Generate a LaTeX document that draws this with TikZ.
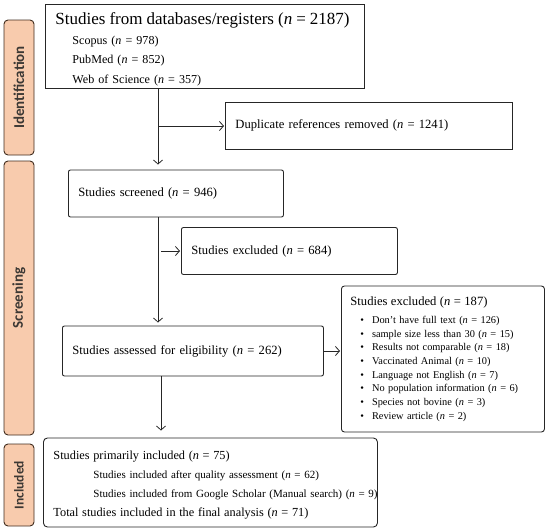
\documentclass[tikz,border=0pt]{standalone}
\usepackage{fontspec}
\setmainfont{Liberation Serif}
\newfontfamily\barfont{Carlito}
\usepackage{tikz}
\usetikzlibrary{calc,positioning,arrows.meta}
\definecolor{peach}{RGB}{248,203,173}
\definecolor{barline}{RGB}{64,44,30}
\definecolor{bartext}{RGB}{60,56,52}
\newcommand{\nn}{\textit{n}}

\begin{document}
\begin{tikzpicture}[x=1pt,y=-1pt,
  stage/.style={rotate=90,draw=barline,fill=peach,line width=0.9pt,rounded corners=4pt,minimum height=30pt,inner sep=0pt,text=bartext,font=\barfont\bfseries\fontsize{15}{16}\selectfont},
  box/.style={draw=black!85,line width=0.9pt,anchor=west,align=left,inner xsep=10pt,inner ysep=0pt,font=\fontsize{12.6}{19.5}\selectfont},
  flow/.style={-{Straight Barb[length=4pt,width=9pt]},line width=0.8pt,black!85}]
\useasboundingbox (0,0) rectangle (550,530);

% phases
\node[stage,minimum width=135pt] (p1) at (19,87.5) {Identification};
\node[stage,minimum width=274pt] (p2) at (19,298) {Screening};
\node[stage,minimum width=82pt,font=\barfont\bfseries\fontsize{13.5}{15}\selectfont] (p3) at (19,485) {Included};

% boxes
\node[box,text width=299pt,minimum height=84pt,font=\fontsize{12.1}{19.5}\selectfont] (b1) at (45,46) {{\fontsize{17}{19.5}\selectfont\rule{0pt}{19pt}Studies from databases/registers (\nn{} = 2187)}\\
  \hspace*{17pt}Scopus (\nn{} = 978)\\
  \hspace*{17pt}PubMed (\nn{} = 852)\\
  \hspace*{17pt}Web of Science (\nn{} = 357)};
\node[box,text width=267pt,minimum height=47pt] (b2) at (225,125.5) {Duplicate references removed (\nn{} = 1241)};
\node[box,text width=195pt,minimum height=47pt,rounded corners=2pt] (b3) at (68,193.5) {Studies screened (\nn{} = 946)};
\node[box,text width=196pt,minimum height=47pt,rounded corners=2pt] (b4) at (181,251) {Studies excluded (\nn{} = 684)};
\node[box,text width=241pt,minimum height=50pt,rounded corners=2pt] (b5) at (62,351) {Studies assessed for eligibility (\nn{} = 262)};
\node[box,text width=185pt,minimum height=146pt,rounded corners=3pt,inner xsep=9pt,font=\fontsize{10.35}{13.7}\selectfont] (b6) at (341,359) {{\fontsize{12.6}{13.7}\selectfont Studies excluded (\nn{} = 187)}\\[4.3pt]
  \hspace*{10pt}\textbullet\hspace{8pt}Don’t have full text (\nn{} = 126)\\
  \hspace*{10pt}\textbullet\hspace{8pt}sample size less than 30 (\nn{} = 15)\\
  \hspace*{10pt}\textbullet\hspace{8pt}Results not comparable (\nn{} = 18)\\
  \hspace*{10pt}\textbullet\hspace{8pt}Vaccinated Animal (\nn{} = 10)\\
  \hspace*{10pt}\textbullet\hspace{8pt}Language not English (\nn{} = 7)\\
  \hspace*{10pt}\textbullet\hspace{8pt}No population information (\nn{} = 6)\\
  \hspace*{10pt}\textbullet\hspace{8pt}Species not bovine (\nn{} = 3)\\
  \hspace*{10pt}\textbullet\hspace{8pt}Review article (\nn{} = 2)};
\node[box,text width=314pt,minimum height=89pt,rounded corners=4pt,font=\fontsize{11}{19}\selectfont] (b7) at (43,482.5) {{\fontsize{12.3}{19}\selectfont\rule{0pt}{13pt}Studies primarily included (\nn{} = 75)}\\
  \hspace*{40pt}Studies included after quality assessment (\nn{} = 62)\\
  \hspace*{40pt}\mbox{Studies included from Google Scholar (Manual search) (\nn{} = 9)}\\
  {\fontsize{12.3}{19}\selectfont Total studies included in the final analysis (\nn{} = 71)}};

% connectors
\coordinate (j1) at (158,126);
\coordinate (j2) at (158,251);
\coordinate (j3) at (161,351);
\draw[flow,shorten >=5pt] (b1.south -| j1) -- (b3.north -| j1);
\draw[flow,shorten >=1pt] (j1) -- (b2.west |- j1);
\draw[flow,shorten >=3pt] (b3.south -| j2) -- (b5.north -| j2);
\draw[flow,shorten <=3pt,shorten >=1pt] (j2) -- (b4.west |- j2);
\draw[flow,shorten >=1pt] (b5.east) -- (b6.west |- b5.east);
\draw[flow,shorten >=7pt] (b5.south -| j3) -- (b7.north -| j3);
\end{tikzpicture}
\end{document}
